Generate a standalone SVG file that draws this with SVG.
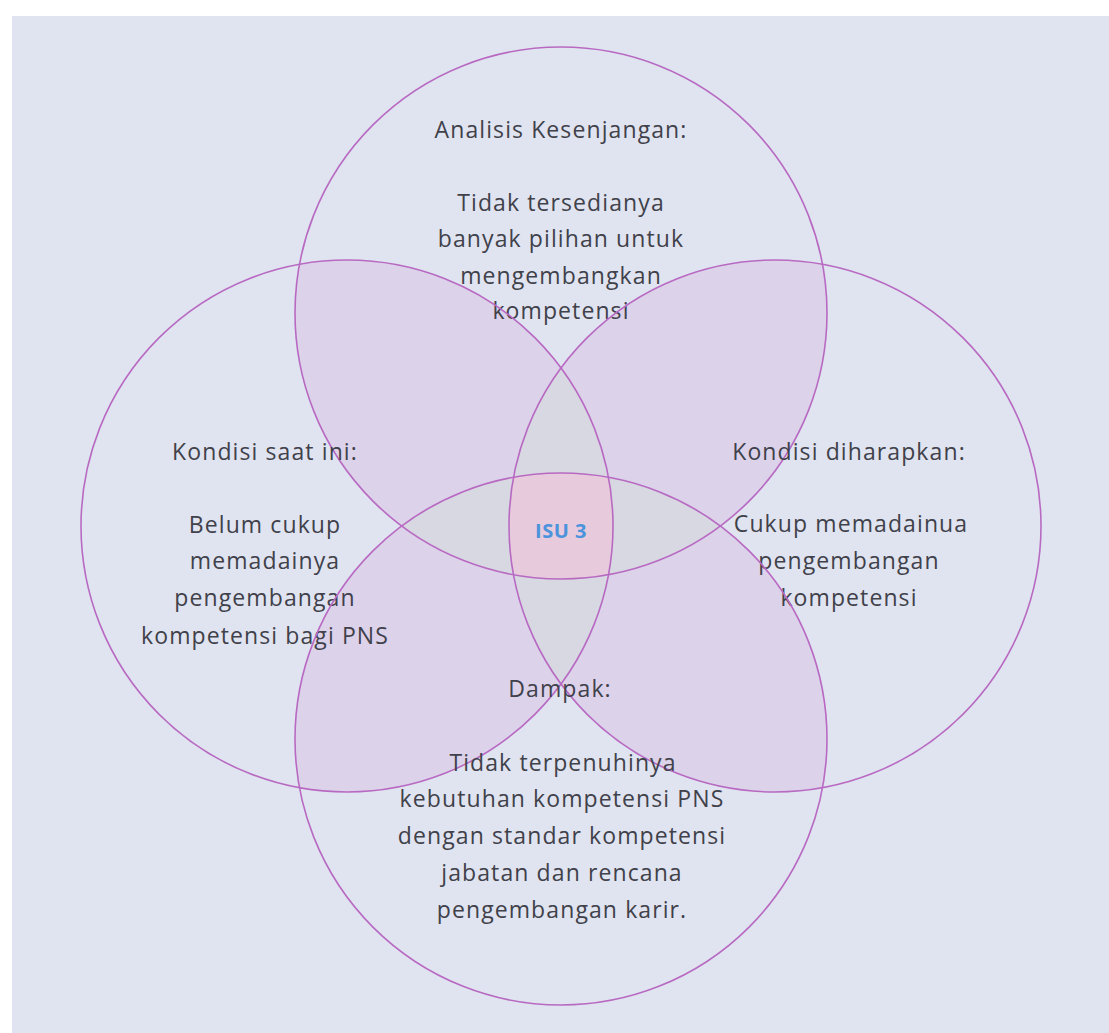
<svg xmlns="http://www.w3.org/2000/svg" width="1109" height="1033" viewBox="0 0 1109 1033">
<style>
.ring{fill:none;stroke:#b86ac2;stroke-width:1.6}
.lab{font-family:"Open Sans","DejaVu Sans",sans-serif;font-size:23px;letter-spacing:1.1px;fill:#40414a;text-anchor:middle}
.isu{font-family:"Open Sans","DejaVu Sans",sans-serif;font-size:20px;font-weight:bold;letter-spacing:0.5px;fill:#4b93dc;text-anchor:middle}
.lil{fill:#dcd2ea}
.gry{fill:#d7d8e2}
.pnk{fill:#e7cadb}
</style>
<defs>
<clipPath id="cT"><circle cx="561" cy="313" r="266"/></clipPath>
<clipPath id="cB"><circle cx="561" cy="739" r="266"/></clipPath>
<clipPath id="cL"><circle cx="347" cy="526" r="266"/></clipPath>
<clipPath id="cR"><circle cx="775" cy="526" r="266"/></clipPath>
</defs>
<rect x="0" y="0" width="1109" height="1033" fill="#ffffff"/>
<rect x="12" y="16" width="1097" height="1017" fill="#e0e4f0"/>
<g id="overlaps">
<g clip-path="url(#cT)"><circle class="lil" cx="347" cy="526" r="266"/><circle class="lil" cx="775" cy="526" r="266"/></g>
<g clip-path="url(#cB)"><circle class="lil" cx="347" cy="526" r="266"/><circle class="lil" cx="775" cy="526" r="266"/></g>
<g clip-path="url(#cL)"><circle class="gry" cx="775" cy="526" r="266"/></g>
<g clip-path="url(#cT)"><circle class="gry" cx="561" cy="739" r="266"/></g>
<g clip-path="url(#cL)"><g clip-path="url(#cR)"><g clip-path="url(#cT)"><circle class="pnk" cx="561" cy="739" r="266"/></g></g></g>
</g>
<g id="circle-top"><circle class="ring" cx="561" cy="313" r="266"/>
<text class="lab" x="561" y="138">Analisis Kesenjangan:</text>
<text class="lab" x="561" y="211">Tidak tersedianya</text>
<text class="lab" x="561" y="247">banyak pilihan untuk</text>
<text class="lab" x="561" y="284">mengembangkan</text>
<text class="lab" x="561" y="319">kompetensi</text>
</g>
<g id="circle-left"><circle class="ring" cx="347" cy="526" r="266"/>
<text class="lab" x="265" y="460">Kondisi saat ini:</text>
<text class="lab" x="265" y="533">Belum cukup</text>
<text class="lab" x="265" y="569">memadainya</text>
<text class="lab" x="265" y="606">pengembangan</text>
<text class="lab" x="265" y="644">kompetensi bagi PNS</text>
</g>
<g id="circle-right"><circle class="ring" cx="775" cy="526" r="266"/>
<text class="lab" x="849" y="460">Kondisi diharapkan:</text>
<text class="lab" x="851" y="532">Cukup memadainua</text>
<text class="lab" x="849" y="569">pengembangan</text>
<text class="lab" x="849" y="606">kompetensi</text>
</g>
<g id="circle-bottom"><circle class="ring" cx="561" cy="739" r="266"/>
<text class="lab" x="560" y="697">Dampak:</text>
<text class="lab" x="563" y="771">Tidak terpenuhinya</text>
<text class="lab" x="562" y="807">kebutuhan kompetensi PNS</text>
<text class="lab" x="562" y="844">dengan standar kompetensi</text>
<text class="lab" x="562" y="881">jabatan dan rencana</text>
<text class="lab" x="562" y="918">pengembangan karir.</text>
</g>
<g id="center"><text class="isu" x="561" y="538">ISU 3</text></g>
<g id="connectors"/>
</svg>
